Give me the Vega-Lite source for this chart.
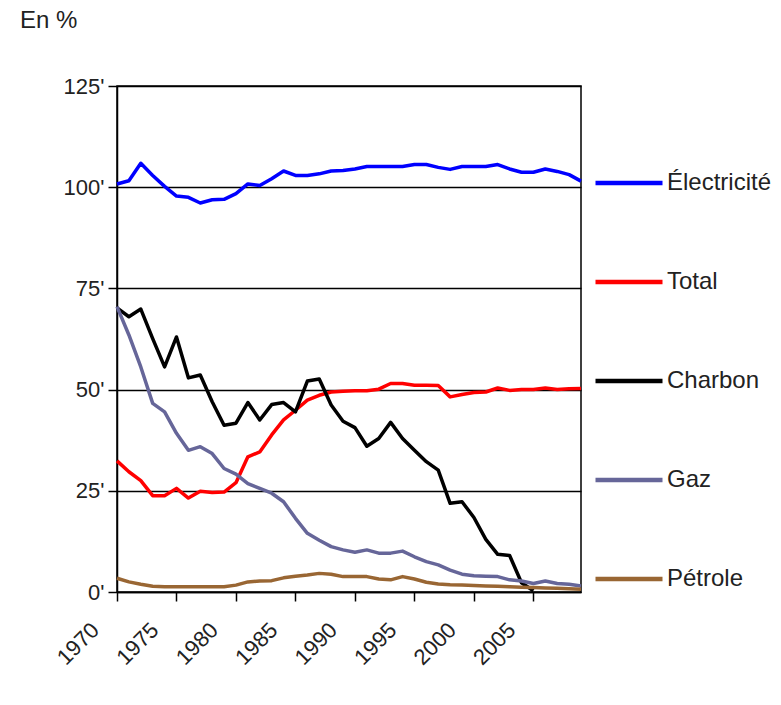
{
  "$schema": "https://vega.github.io/schema/vega-lite/v6.json",
  "width": 464,
  "height": 506,
  "autosize": "none",
  "padding": {"left": 117, "top": 86, "right": 200, "bottom": 113},
  "background": "white",
  "title": {"text": "En %", "anchor": "start", "frame": "group", "dx": -97, "offset": 42, "fontSize": 24, "fontWeight": "normal", "font": "Liberation Sans", "color": "#222"},
  "config": {
    "view": {"stroke": "#000", "strokeWidth": 1.5},
    "font": "Liberation Sans"
  },
  "data": {"values": [
    {"year": 1970, "s": "Électricité", "v": 100.8}, {"year": 1971, "s": "Électricité", "v": 101.6}, {"year": 1972, "s": "Électricité", "v": 105.9}, {"year": 1973, "s": "Électricité", "v": 102.9}, {"year": 1974, "s": "Électricité", "v": 100.2}, {"year": 1975, "s": "Électricité", "v": 97.8}, {"year": 1976, "s": "Électricité", "v": 97.5}, {"year": 1977, "s": "Électricité", "v": 96.1}, {"year": 1978, "s": "Électricité", "v": 96.9}, {"year": 1979, "s": "Électricité", "v": 97.0},
    {"year": 1980, "s": "Électricité", "v": 98.4}, {"year": 1981, "s": "Électricité", "v": 100.8}, {"year": 1982, "s": "Électricité", "v": 100.4}, {"year": 1983, "s": "Électricité", "v": 102.1}, {"year": 1984, "s": "Électricité", "v": 104.0}, {"year": 1985, "s": "Électricité", "v": 102.9}, {"year": 1986, "s": "Électricité", "v": 102.9}, {"year": 1987, "s": "Électricité", "v": 103.3}, {"year": 1988, "s": "Électricité", "v": 104.0}, {"year": 1989, "s": "Électricité", "v": 104.1},
    {"year": 1990, "s": "Électricité", "v": 104.5}, {"year": 1991, "s": "Électricité", "v": 105.1}, {"year": 1992, "s": "Électricité", "v": 105.1}, {"year": 1993, "s": "Électricité", "v": 105.1}, {"year": 1994, "s": "Électricité", "v": 105.1}, {"year": 1995, "s": "Électricité", "v": 105.6}, {"year": 1996, "s": "Électricité", "v": 105.6}, {"year": 1997, "s": "Électricité", "v": 104.9}, {"year": 1998, "s": "Électricité", "v": 104.4}, {"year": 1999, "s": "Électricité", "v": 105.1},
    {"year": 2000, "s": "Électricité", "v": 105.1}, {"year": 2001, "s": "Électricité", "v": 105.1}, {"year": 2002, "s": "Électricité", "v": 105.6}, {"year": 2003, "s": "Électricité", "v": 104.5}, {"year": 2004, "s": "Électricité", "v": 103.7}, {"year": 2005, "s": "Électricité", "v": 103.7}, {"year": 2006, "s": "Électricité", "v": 104.5}, {"year": 2007, "s": "Électricité", "v": 103.9}, {"year": 2008, "s": "Électricité", "v": 103.1}, {"year": 2009, "s": "Électricité", "v": 101.5},

    {"year": 1970, "s": "Total", "v": 32.4}, {"year": 1971, "s": "Total", "v": 29.7}, {"year": 1972, "s": "Total", "v": 27.5}, {"year": 1973, "s": "Total", "v": 23.8}, {"year": 1974, "s": "Total", "v": 23.8}, {"year": 1975, "s": "Total", "v": 25.6}, {"year": 1976, "s": "Total", "v": 23.2}, {"year": 1977, "s": "Total", "v": 24.9}, {"year": 1978, "s": "Total", "v": 24.6}, {"year": 1979, "s": "Total", "v": 24.7},
    {"year": 1980, "s": "Total", "v": 27.0}, {"year": 1981, "s": "Total", "v": 33.4}, {"year": 1982, "s": "Total", "v": 34.6}, {"year": 1983, "s": "Total", "v": 38.8}, {"year": 1984, "s": "Total", "v": 42.5}, {"year": 1985, "s": "Total", "v": 44.9}, {"year": 1986, "s": "Total", "v": 47.4}, {"year": 1987, "s": "Total", "v": 48.6}, {"year": 1988, "s": "Total", "v": 49.4}, {"year": 1989, "s": "Total", "v": 49.6},
    {"year": 1990, "s": "Total", "v": 49.7}, {"year": 1991, "s": "Total", "v": 49.7}, {"year": 1992, "s": "Total", "v": 50.1}, {"year": 1993, "s": "Total", "v": 51.5}, {"year": 1994, "s": "Total", "v": 51.5}, {"year": 1995, "s": "Total", "v": 51.1}, {"year": 1996, "s": "Total", "v": 51.1}, {"year": 1997, "s": "Total", "v": 51.0}, {"year": 1998, "s": "Total", "v": 48.2}, {"year": 1999, "s": "Total", "v": 48.8},
    {"year": 2000, "s": "Total", "v": 49.3}, {"year": 2001, "s": "Total", "v": 49.4}, {"year": 2002, "s": "Total", "v": 50.4}, {"year": 2003, "s": "Total", "v": 49.8}, {"year": 2004, "s": "Total", "v": 50.0}, {"year": 2005, "s": "Total", "v": 50.0}, {"year": 2006, "s": "Total", "v": 50.4}, {"year": 2007, "s": "Total", "v": 50.0}, {"year": 2008, "s": "Total", "v": 50.2}, {"year": 2009, "s": "Total", "v": 50.3},

    {"year": 1970, "s": "Charbon", "v": 70.2}, {"year": 1971, "s": "Charbon", "v": 68.0}, {"year": 1972, "s": "Charbon", "v": 69.9}, {"year": 1973, "s": "Charbon", "v": 62.6}, {"year": 1974, "s": "Charbon", "v": 55.6}, {"year": 1975, "s": "Charbon", "v": 63.0}, {"year": 1976, "s": "Charbon", "v": 52.9}, {"year": 1977, "s": "Charbon", "v": 53.6}, {"year": 1978, "s": "Charbon", "v": 47.0}, {"year": 1979, "s": "Charbon", "v": 41.2},
    {"year": 1980, "s": "Charbon", "v": 41.7}, {"year": 1981, "s": "Charbon", "v": 46.8}, {"year": 1982, "s": "Charbon", "v": 42.5}, {"year": 1983, "s": "Charbon", "v": 46.3}, {"year": 1984, "s": "Charbon", "v": 46.8}, {"year": 1985, "s": "Charbon", "v": 44.5}, {"year": 1986, "s": "Charbon", "v": 52.1}, {"year": 1987, "s": "Charbon", "v": 52.6}, {"year": 1988, "s": "Charbon", "v": 46.2}, {"year": 1989, "s": "Charbon", "v": 42.2},
    {"year": 1990, "s": "Charbon", "v": 40.6}, {"year": 1991, "s": "Charbon", "v": 36.0}, {"year": 1992, "s": "Charbon", "v": 37.9}, {"year": 1993, "s": "Charbon", "v": 41.9}, {"year": 1994, "s": "Charbon", "v": 37.9}, {"year": 1995, "s": "Charbon", "v": 35.0}, {"year": 1996, "s": "Charbon", "v": 32.2}, {"year": 1997, "s": "Charbon", "v": 30.1}, {"year": 1998, "s": "Charbon", "v": 21.9}, {"year": 1999, "s": "Charbon", "v": 22.3},
    {"year": 2000, "s": "Charbon", "v": 18.4}, {"year": 2001, "s": "Charbon", "v": 13.0}, {"year": 2002, "s": "Charbon", "v": 9.3}, {"year": 2003, "s": "Charbon", "v": 9.0}, {"year": 2004, "s": "Charbon", "v": 2.3}, {"year": 2005, "s": "Charbon", "v": 0.3},

    {"year": 1970, "s": "Gaz", "v": 70.5}, {"year": 1971, "s": "Gaz", "v": 63.5}, {"year": 1972, "s": "Gaz", "v": 55.6}, {"year": 1973, "s": "Gaz", "v": 46.6}, {"year": 1974, "s": "Gaz", "v": 44.5}, {"year": 1975, "s": "Gaz", "v": 39.2}, {"year": 1976, "s": "Gaz", "v": 35.0}, {"year": 1977, "s": "Gaz", "v": 35.9}, {"year": 1978, "s": "Gaz", "v": 34.2}, {"year": 1979, "s": "Gaz", "v": 30.5},
    {"year": 1980, "s": "Gaz", "v": 29.1}, {"year": 1981, "s": "Gaz", "v": 26.8}, {"year": 1982, "s": "Gaz", "v": 25.6}, {"year": 1983, "s": "Gaz", "v": 24.4}, {"year": 1984, "s": "Gaz", "v": 22.3}, {"year": 1985, "s": "Gaz", "v": 18.2}, {"year": 1986, "s": "Gaz", "v": 14.5}, {"year": 1987, "s": "Gaz", "v": 12.8}, {"year": 1988, "s": "Gaz", "v": 11.2}, {"year": 1989, "s": "Gaz", "v": 10.4},
    {"year": 1990, "s": "Gaz", "v": 9.8}, {"year": 1991, "s": "Gaz", "v": 10.4}, {"year": 1992, "s": "Gaz", "v": 9.6}, {"year": 1993, "s": "Gaz", "v": 9.6}, {"year": 1994, "s": "Gaz", "v": 10.1}, {"year": 1995, "s": "Gaz", "v": 8.7}, {"year": 1996, "s": "Gaz", "v": 7.5}, {"year": 1997, "s": "Gaz", "v": 6.7}, {"year": 1998, "s": "Gaz", "v": 5.4}, {"year": 1999, "s": "Gaz", "v": 4.4},
    {"year": 2000, "s": "Gaz", "v": 4.0}, {"year": 2001, "s": "Gaz", "v": 3.9}, {"year": 2002, "s": "Gaz", "v": 3.8}, {"year": 2003, "s": "Gaz", "v": 3.0}, {"year": 2004, "s": "Gaz", "v": 2.7}, {"year": 2005, "s": "Gaz", "v": 2.1}, {"year": 2006, "s": "Gaz", "v": 2.7}, {"year": 2007, "s": "Gaz", "v": 2.1}, {"year": 2008, "s": "Gaz", "v": 1.9}, {"year": 2009, "s": "Gaz", "v": 1.5},

    {"year": 1970, "s": "Pétrole", "v": 3.4}, {"year": 1971, "s": "Pétrole", "v": 2.5}, {"year": 1972, "s": "Pétrole", "v": 1.9}, {"year": 1973, "s": "Pétrole", "v": 1.4}, {"year": 1974, "s": "Pétrole", "v": 1.3}, {"year": 1975, "s": "Pétrole", "v": 1.3}, {"year": 1976, "s": "Pétrole", "v": 1.3}, {"year": 1977, "s": "Pétrole", "v": 1.3}, {"year": 1978, "s": "Pétrole", "v": 1.3}, {"year": 1979, "s": "Pétrole", "v": 1.3},
    {"year": 1980, "s": "Pétrole", "v": 1.7}, {"year": 1981, "s": "Pétrole", "v": 2.5}, {"year": 1982, "s": "Pétrole", "v": 2.7}, {"year": 1983, "s": "Pétrole", "v": 2.8}, {"year": 1984, "s": "Pétrole", "v": 3.5}, {"year": 1985, "s": "Pétrole", "v": 3.9}, {"year": 1986, "s": "Pétrole", "v": 4.2}, {"year": 1987, "s": "Pétrole", "v": 4.6}, {"year": 1988, "s": "Pétrole", "v": 4.4}, {"year": 1989, "s": "Pétrole", "v": 3.8},
    {"year": 1990, "s": "Pétrole", "v": 3.8}, {"year": 1991, "s": "Pétrole", "v": 3.8}, {"year": 1992, "s": "Pétrole", "v": 3.2}, {"year": 1993, "s": "Pétrole", "v": 3.0}, {"year": 1994, "s": "Pétrole", "v": 3.8}, {"year": 1995, "s": "Pétrole", "v": 3.2}, {"year": 1996, "s": "Pétrole", "v": 2.4}, {"year": 1997, "s": "Pétrole", "v": 2.0}, {"year": 1998, "s": "Pétrole", "v": 1.8}, {"year": 1999, "s": "Pétrole", "v": 1.7},
    {"year": 2000, "s": "Pétrole", "v": 1.6}, {"year": 2001, "s": "Pétrole", "v": 1.5}, {"year": 2002, "s": "Pétrole", "v": 1.4}, {"year": 2003, "s": "Pétrole", "v": 1.3}, {"year": 2004, "s": "Pétrole", "v": 1.2}, {"year": 2005, "s": "Pétrole", "v": 1.1}, {"year": 2006, "s": "Pétrole", "v": 1.0}, {"year": 2007, "s": "Pétrole", "v": 0.9}, {"year": 2008, "s": "Pétrole", "v": 0.8}, {"year": 2009, "s": "Pétrole", "v": 0.7}
  ]},
  "mark": {"type": "line", "strokeWidth": 3.5, "strokeJoin": "round"},
  "encoding": {
    "x": {
      "field": "year", "type": "quantitative",
      "scale": {"domain": [1970, 2009], "nice": false, "zero": false},
      "axis": {
        "title": null, "values": [1970, 1975, 1980, 1985, 1990, 1995, 2000, 2005], "format": "d",
        "grid": false, "domainColor": "#000", "domainWidth": 1.5, "tickColor": "#000", "tickWidth": 1.5, "tickSize": 9,
        "labelAngle": -45, "labelAlign": "right", "labelBaseline": "top", "labelPadding": 18, "labelOffset": -29,
        "labelFontSize": 22, "labelColor": "#222", "labelFont": "Liberation Sans"
      }
    },
    "y": {
      "field": "v", "type": "quantitative",
      "scale": {"domain": [0, 125], "nice": false},
      "axis": {
        "title": null, "values": [0, 25, 50, 75, 100, 125], "labelExpr": "datum.label + \"'\"",
        "grid": true, "gridColor": "#000", "gridWidth": 1.5, "gridOpacity": 1,
        "domainColor": "#000", "domainWidth": 1.5, "tickColor": "#000", "tickWidth": 1.5, "tickSize": 9,
        "labelPadding": 4, "labelFontSize": 22, "labelColor": "#222", "labelFont": "Liberation Sans"
      }
    },
    "color": {
      "field": "s", "type": "nominal",
      "scale": {"domain": ["Électricité", "Total", "Charbon", "Gaz", "Pétrole"], "range": ["#0000FF", "#FF0000", "#000000", "#666699", "#996633"]},
      "legend": {
        "title": null, "orient": "none", "legendX": 476, "legendY": 61,
        "symbolType": "stroke", "symbolSize": 4489, "symbolStrokeWidth": 4.5,
        "labelFontSize": 24, "labelFont": "Liberation Sans", "labelColor": "#222", "labelOffset": 2,
        "rowPadding": 51, "labelLimit": 200
      }
    }
  }
}
